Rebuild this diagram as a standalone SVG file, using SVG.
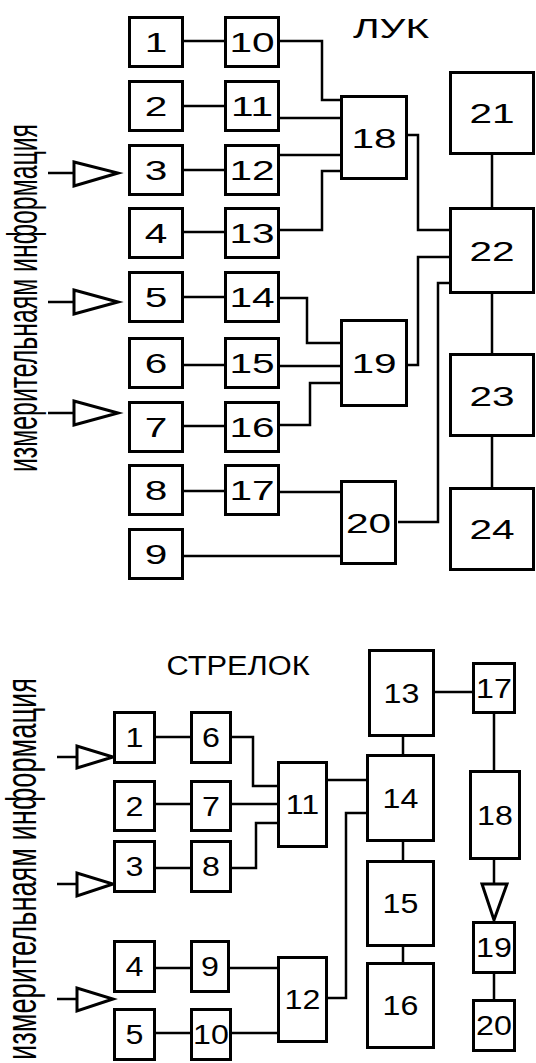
<svg xmlns="http://www.w3.org/2000/svg" width="536" height="1063" viewBox="0 0 536 1063">
<style>
.b{fill:#fff;stroke:#000;stroke-width:3}
.c{fill:none;stroke:#000;stroke-width:2.5}
.a{fill:#fff;stroke:#000;stroke-width:3}
.t{font-family:"Liberation Sans",Arial,sans-serif;font-size:28px;text-anchor:middle;fill:#000}
.v{font-family:"Liberation Sans",Arial,sans-serif;font-size:28px;fill:#000}
</style>
<rect width="536" height="1063" fill="#fff"/>
<!-- connectors -->
<g id="connectors">
<!-- top -->
<path class="c" d="M184,41H224M184,106H224M184,170H224M184,232H224M184,297H224M184,365H224M184,426H224M184,491H224M184,556H340"/>
<path class="c" d="M280,41H322V100H340"/>
<path class="c" d="M280,118H340"/>
<path class="c" d="M280,155H340"/>
<path class="c" d="M280,230H322V171H340"/>
<path class="c" d="M408,135H418V230H449"/>
<path class="c" d="M408,365H418V257H449"/>
<path class="c" d="M398,522H438V283H449"/>
<path class="c" d="M280,298H307V343H340"/>
<path class="c" d="M280,366H340"/>
<path class="c" d="M280,425H310V383H340"/>
<path class="c" d="M280,492H340"/>
<path class="c" d="M492,155V207M492,294V353M492,437V487"/>
<path class="c" d="M48,173H74M48,302H74M48,413H74"/>
<polygon class="a" points="74,162 74,186 118,173"/>
<polygon class="a" points="74,290 74,314 118,302"/>
<polygon class="a" points="74,401 74,425 118,413"/>
<!-- bottom -->
<path class="c" d="M156,737H190M156,804H190M156,868H190M156,968H190M156,1033H190"/>
<path class="c" d="M232,737H253V786H277"/>
<path class="c" d="M232,804H277"/>
<path class="c" d="M232,868H256V823H277"/>
<path class="c" d="M328,780H366"/>
<path class="c" d="M230,968H277"/>
<path class="c" d="M232,1033H277"/>
<path class="c" d="M328,998H346V813H366"/>
<path class="c" d="M403,737V754M403,842V860M403,947V962"/>
<path class="c" d="M435,692H472"/>
<path class="c" d="M494,714V770M494,860V884M494,974V999"/>
<polygon class="a" points="482,884 507,884 494,920"/>
<path class="c" d="M57,757H77M57,884H77M57,999H77"/>
<polygon class="a" points="77,746 77,768 113,757"/>
<polygon class="a" points="77,873 77,896 113,884"/>
<polygon class="a" points="77,988 77,1011 113,999"/>
</g>
<!-- labels -->
<text class="t" transform="translate(391,38) scale(1.45,1)">ЛУК</text>
<text class="t" transform="translate(238,675) scale(1.1,1)">СТРЕЛОК</text>
<text class="v" transform="translate(37,472) rotate(-90) scale(1,1.5)" textLength="348" lengthAdjust="spacingAndGlyphs">измерительнаям информация</text>
<text class="v" transform="translate(36,1060) rotate(-90) scale(1,1.5)" textLength="382" lengthAdjust="spacingAndGlyphs">измерительнаям информация</text>
<!-- top nodes -->
<g id="t1"><rect class="b" x="129.5" y="17.5" width="53" height="49"/><text class="t" transform="translate(156,52) scale(1.45,1)">1</text></g>
<g id="t2"><rect class="b" x="129.5" y="81.5" width="53" height="49"/><text class="t" transform="translate(156,116) scale(1.45,1)">2</text></g>
<g id="t3"><rect class="b" x="129.5" y="145.5" width="53" height="49"/><text class="t" transform="translate(156,180) scale(1.45,1)">3</text></g>
<g id="t4"><rect class="b" x="129.5" y="208.5" width="53" height="49"/><text class="t" transform="translate(156,243) scale(1.45,1)">4</text></g>
<g id="t5"><rect class="b" x="129.5" y="272.5" width="53" height="49"/><text class="t" transform="translate(156,307) scale(1.45,1)">5</text></g>
<g id="t6"><rect class="b" x="129.5" y="338.5" width="53" height="49"/><text class="t" transform="translate(156,373) scale(1.45,1)">6</text></g>
<g id="t7"><rect class="b" x="129.5" y="402.5" width="53" height="49"/><text class="t" transform="translate(156,437) scale(1.45,1)">7</text></g>
<g id="t8"><rect class="b" x="129.5" y="465.5" width="53" height="49"/><text class="t" transform="translate(156,500) scale(1.45,1)">8</text></g>
<g id="t9"><rect class="b" x="129.5" y="529.5" width="53" height="49"/><text class="t" transform="translate(156,564) scale(1.45,1)">9</text></g>
<g id="t10"><rect class="b" x="225.5" y="17.5" width="53" height="49"/><text class="t" transform="translate(252,52) scale(1.45,1)">10</text></g>
<g id="t11"><rect class="b" x="225.5" y="81.5" width="53" height="49"/><text class="t" transform="translate(252,116) scale(1.45,1)">11</text></g>
<g id="t12"><rect class="b" x="225.5" y="145.5" width="53" height="49"/><text class="t" transform="translate(252,180) scale(1.45,1)">12</text></g>
<g id="t13"><rect class="b" x="225.5" y="208.5" width="53" height="49"/><text class="t" transform="translate(252,243) scale(1.45,1)">13</text></g>
<g id="t14"><rect class="b" x="225.5" y="272.5" width="53" height="49"/><text class="t" transform="translate(252,307) scale(1.45,1)">14</text></g>
<g id="t15"><rect class="b" x="225.5" y="338.5" width="53" height="49"/><text class="t" transform="translate(252,373) scale(1.45,1)">15</text></g>
<g id="t16"><rect class="b" x="225.5" y="402.5" width="53" height="49"/><text class="t" transform="translate(252,437) scale(1.45,1)">16</text></g>
<g id="t17"><rect class="b" x="225.5" y="465.5" width="53" height="49"/><text class="t" transform="translate(252,500) scale(1.45,1)">17</text></g>
<g id="t18"><rect class="b" x="341.5" y="96.5" width="65" height="82"/><text class="t" transform="translate(374,148) scale(1.45,1)">18</text></g>
<g id="t19"><rect class="b" x="341.5" y="320.5" width="65" height="85"/><text class="t" transform="translate(374,373) scale(1.45,1)">19</text></g>
<g id="t20"><rect class="b" x="341.5" y="481.5" width="54" height="82"/><text class="t" transform="translate(368.5,533) scale(1.45,1)">20</text></g>
<g id="t21"><rect class="b" x="450.5" y="72.5" width="83" height="81"/><text class="t" transform="translate(492,123) scale(1.45,1)">21</text></g>
<g id="t22"><rect class="b" x="450.5" y="208.5" width="83" height="84"/><text class="t" transform="translate(492,261) scale(1.45,1)">22</text></g>
<g id="t23"><rect class="b" x="450.5" y="354.5" width="83" height="81"/><text class="t" transform="translate(492,406) scale(1.45,1)">23</text></g>
<g id="t24"><rect class="b" x="450.5" y="488.5" width="83" height="81"/><text class="t" transform="translate(492,539) scale(1.45,1)">24</text></g>
<!-- bottom nodes -->
<g id="s1"><rect class="b" x="114.5" y="712.5" width="40" height="50"/><text class="t" transform="translate(134.5,747) scale(1.15,1)">1</text></g>
<g id="s2"><rect class="b" x="114.5" y="781.5" width="40" height="49"/><text class="t" transform="translate(134.5,816) scale(1.15,1)">2</text></g>
<g id="s3"><rect class="b" x="114.5" y="841.5" width="40" height="50"/><text class="t" transform="translate(134.5,876) scale(1.15,1)">3</text></g>
<g id="s4"><rect class="b" x="114.5" y="941.5" width="40" height="50"/><text class="t" transform="translate(134.5,976) scale(1.15,1)">4</text></g>
<g id="s5"><rect class="b" x="114.5" y="1009.5" width="40" height="50"/><text class="t" transform="translate(134.5,1044) scale(1.15,1)">5</text></g>
<g id="s6"><rect class="b" x="191.5" y="712.5" width="39" height="50"/><text class="t" transform="translate(211,747) scale(1.15,1)">6</text></g>
<g id="s7"><rect class="b" x="191.5" y="781.5" width="39" height="49"/><text class="t" transform="translate(211,816) scale(1.15,1)">7</text></g>
<g id="s8"><rect class="b" x="191.5" y="841.5" width="39" height="50"/><text class="t" transform="translate(211,876) scale(1.15,1)">8</text></g>
<g id="s9"><rect class="b" x="191.5" y="941.5" width="37" height="50"/><text class="t" transform="translate(210,976) scale(1.15,1)">9</text></g>
<g id="s10"><rect class="b" x="191.5" y="1009.5" width="39" height="50"/><text class="t" transform="translate(211,1044) scale(1.15,1)">10</text></g>
<g id="s11"><rect class="b" x="278.5" y="762.5" width="48" height="84"/><text class="t" transform="translate(302.5,814) scale(1.15,1)">11</text></g>
<g id="s12"><rect class="b" x="278.5" y="957.5" width="48" height="84"/><text class="t" transform="translate(302.5,1009) scale(1.15,1)">12</text></g>
<g id="s13"><rect class="b" x="369.5" y="650.5" width="64" height="85"/><text class="t" transform="translate(401.5,703) scale(1.15,1)">13</text></g>
<g id="s14"><rect class="b" x="367.5" y="755.5" width="66" height="85"/><text class="t" transform="translate(400.5,808) scale(1.15,1)">14</text></g>
<g id="s15"><rect class="b" x="367.5" y="861.5" width="66" height="84"/><text class="t" transform="translate(400.5,913) scale(1.15,1)">15</text></g>
<g id="s16"><rect class="b" x="367.5" y="963.5" width="66" height="84"/><text class="t" transform="translate(400.5,1015) scale(1.15,1)">16</text></g>
<g id="s17"><rect class="b" x="473.5" y="663.5" width="41" height="49"/><text class="t" transform="translate(494,698) scale(1.15,1)">17</text></g>
<g id="s18"><rect class="b" x="470.5" y="771.5" width="49" height="87"/><text class="t" transform="translate(495,825) scale(1.15,1)">18</text></g>
<g id="s19"><rect class="b" x="473.5" y="922.5" width="41" height="50"/><text class="t" transform="translate(494,957) scale(1.15,1)">19</text></g>
<g id="s20"><rect class="b" x="473.5" y="1000.5" width="41" height="50"/><text class="t" transform="translate(494,1035) scale(1.15,1)">20</text></g>
</svg>
